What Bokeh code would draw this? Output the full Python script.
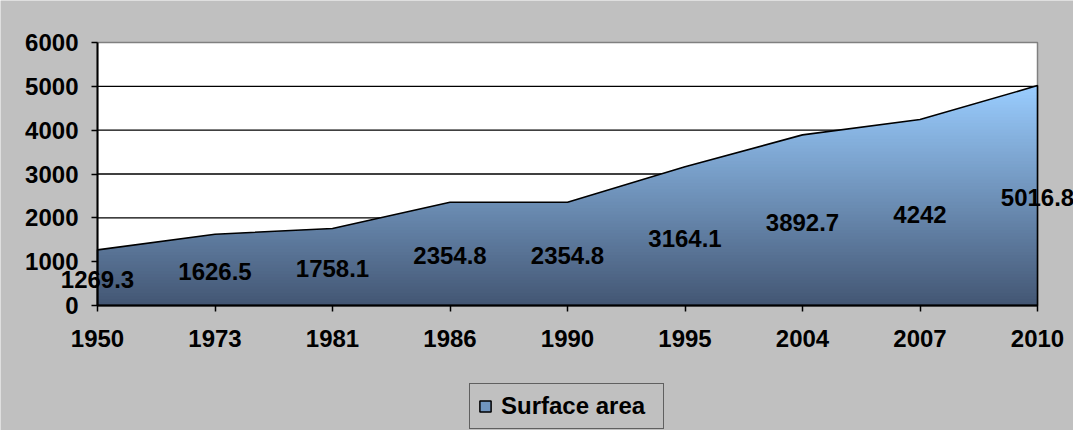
import numpy as np
from bokeh.plotting import figure
from bokeh.models import Range1d, FixedTicker, Legend, LegendItem, ColumnDataSource
from bokeh.core.properties import value
from bokeh.embed import file_html
from bokeh.resources import INLINE

years = ["1950", "1973", "1981", "1986", "1990", "1995", "2004", "2007", "2010"]
surface_area = [1269.3, 1626.5, 1758.1, 2354.8, 2354.8, 3164.1, 3892.7, 4242, 5016.8]
label_texts = ["1269.3", "1626.5", "1758.1", "2354.8", "2354.8", "3164.1", "3892.7", "4242", "5016.8"]
y_ticks = [0, 1000, 2000, 3000, 4000, 5000, 6000]
series_name = "Surface area"

FONT = "Liberation Sans"
FS = "24px"
xs = np.arange(len(years), dtype=float)
vals = np.array(surface_area, dtype=float)

# layout (pixels inside the figure)
W, H = 1073, 430
PL, PR, PT, PB = 97, 1037, 42, 305          # plot-area edges
ymax = y_ticks[-1]
xs_per_px = (len(years) - 1) / (PR - PL)
ys_per_px = ymax / (PB - PT)
x_range = Range1d(-PL * xs_per_px, (W - PL) * xs_per_px)
y_range = Range1d(-(H - PB) * ys_per_px, PB * ys_per_px)

p = figure(width=W, height=H, output_backend="svg", toolbar_location=None,
           x_range=x_range, y_range=y_range, min_border=0)
p.border_fill_color = "#C0C0C0"
p.background_fill_color = "#C0C0C0"
p.outline_line_color = None

# white plot area
p.quad(left=[xs[0]], right=[xs[-1]], bottom=[y_ticks[0]], top=[y_ticks[-1]],
       fill_color="white", line_color="#808080", line_width=1.5)

# horizontal gridlines
p.segment(x0=[xs[0]] * (len(y_ticks) - 2), x1=[xs[-1]] * (len(y_ticks) - 2),
          y0=y_ticks[1:-1], y1=y_ticks[1:-1], line_color="black", line_width=1.3)

# gradient fill via horizontal bands
top = vals.max()
c_bot = np.array([0x43, 0x56, 0x73], dtype=float)
c_top = np.array([0x9A, 0xCD, 0xFF], dtype=float)
N = 70
levels = np.linspace(0, top, N + 1)
eps = top / N * 0.35

def crossings(L):
    out = []
    for i in range(len(vals) - 1):
        a, b = vals[i], vals[i + 1]
        if (a - L) * (b - L) < 0:
            out.append(i + (L - a) / (b - a))
    return out

for k in range(N):
    a, b = levels[k], levels[k + 1]
    nodes = np.unique(np.concatenate([xs, crossings(a), crossings(b + eps)]))
    y = np.interp(nodes, xs, vals)
    lo = np.minimum(y, a)
    hi = np.minimum(y, b + eps)
    t = (a + b) / 2 / top
    c = c_bot + (c_top - c_bot) * t
    col = "#%02x%02x%02x" % tuple(int(round(v)) for v in c)
    p.varea(x=nodes, y1=lo, y2=hi, fill_color=col, fill_alpha=1.0)

# area outline
px = list(xs) + [xs[-1], xs[0]]
py = list(vals) + [0, 0]
p.patch(px, py, fill_color=None, line_color="black", line_width=1.6)

# data labels
src = ColumnDataSource(dict(x=xs, y=vals / 2, t=label_texts))
p.text(x="x", y="y", text="t", source=src, text_align="center", text_baseline="middle",
       y_offset=2, text_font=value(FONT), text_font_style="bold", text_font_size=FS,
       text_color="black")

# axes, fixed at the plot-area edges
p.xaxis.fixed_location = y_ticks[0]
p.yaxis.fixed_location = xs[0]
p.xaxis.bounds = (xs[0], xs[-1])
p.yaxis.bounds = (y_ticks[0], y_ticks[-1])
p.xaxis.ticker = FixedTicker(ticks=list(xs))
p.xaxis.major_label_overrides = {i: y_ for i, y_ in enumerate(years)}
p.yaxis.ticker = FixedTicker(ticks=y_ticks)
for ax in (p.xaxis, p.yaxis):
    ax.axis_line_color = "black"
    ax.axis_line_width = 2
    ax.major_tick_line_color = "black"
    ax.major_tick_line_width = 1.5
    ax.major_tick_out = 6
    ax.major_tick_in = 0
    ax.minor_tick_line_color = None
    ax.major_label_text_font = FONT
    ax.major_label_text_font_style = "bold"
    ax.major_label_text_font_size = FS
    ax.major_label_text_color = "black"
p.xaxis.major_label_standoff = 18
p.yaxis.major_label_standoff = 13
p.xgrid.visible = False
p.ygrid.visible = False

# legend
dummy = p.quad(left=[np.nan], right=[np.nan], top=[np.nan], bottom=[np.nan],
               fill_color="#7095BF", line_color="black", line_width=1.5)
legend = Legend(items=[LegendItem(label=series_name, renderers=[dummy])],
                location=(469, 1), orientation="horizontal",
                background_fill_color="#C0C0C0", background_fill_alpha=1.0,
                border_line_color="black", border_line_width=1.5,
                label_text_font=FONT, label_text_font_style="bold", label_text_font_size=FS,
                label_text_color="black",
                glyph_width=14, glyph_height=14, label_standoff=9, padding=8,
                label_width=154, label_height=20, margin=0, spacing=0)
p.add_layout(legend, "center")

open("out.html", "w").write(file_html(p, INLINE))
